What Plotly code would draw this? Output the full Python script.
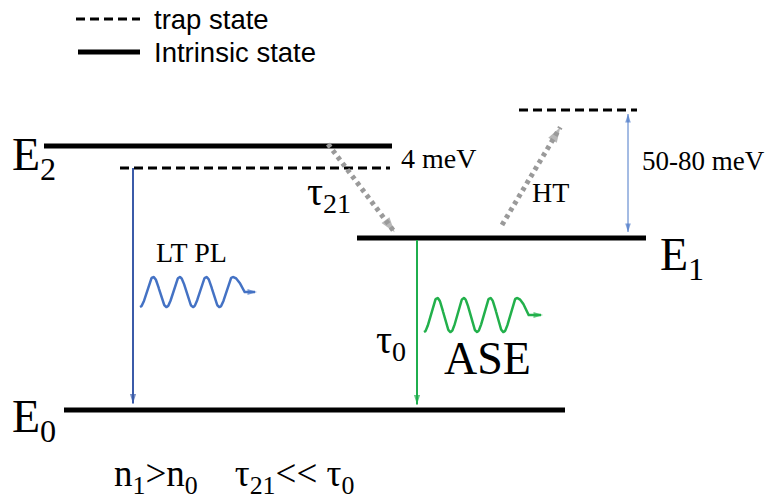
import numpy as np
import plotly.graph_objects as go

# ---------------- data (diagram units) ----------------
level_names = ["E2", "E2 trap", "E1 trap", "E1", "E0"]
level_kind = ["intrinsic", "trap", "trap", "intrinsic", "intrinsic"]
level_x0 = [44, 120, 519, 357, 64]
level_x1 = [392, 390, 637, 646, 565]
level_y = [146, 168, 110, 238, 410]

legend_labels = ["trap state", "Intrinsic state"]
legend_kind = ["trap", "intrinsic"]
legend_x0 = [76, 78]
legend_x1 = [140, 140]
legend_y = [19, 52]

# transitions: (x_from, y_from, x_to, y_to)
lt_pl = [133, 168, 133, 408]
ase = [417, 240, 417, 409]
gap = [628, 110, 628, 236]
tau21_path = [328, 144, 399, 238]
ht_path = [502, 225, 564, 121]

# photon squiggles: x start, centre y, period, amplitude, end of tail
wave_blue = [140, 292, 26.5, 15, 260]
wave_green = [424, 315, 26.5, 17, 546]

# labels
label_text = ["E<sub>2</sub>", "4 meV", "τ<sub>21</sub>", "HT", "50-80 meV",
              "E<sub>1</sub>", "LT PL", "τ<sub>0</sub>", "ASE", "E<sub>0</sub>",
              "n<sub>1</sub>>n<sub>0</sub>    τ<sub>21</sub><< τ<sub>0</sub>"]
label_x = [10, 399, 305, 530, 640, 658, 154, 374, 442, 10, 112]
label_y = [158, 158, 194, 192, 161, 258, 252, 342, 358, 420, 476]
label_size = [46, 28, 40, 28, 27, 46, 28, 40, 46, 46, 37]

SERIF = "Liberation Serif"
SANS = "Liberation Sans"

fig = go.Figure()

def level_style(kind):
    if kind == "intrinsic":
        return dict(color="black", width=5)
    return dict(color="black", width=3, dash="9px,5px")

for x0, x1, y, k in zip(level_x0, level_x1, level_y, level_kind):
    fig.add_trace(go.Scatter(x=[x0, x1], y=[y, y], mode="lines",
                             line=level_style(k), hoverinfo="skip", showlegend=False))

for x0, x1, y, k, lab in zip(legend_x0, legend_x1, legend_y, legend_kind, legend_labels):
    fig.add_trace(go.Scatter(x=[x0, x1], y=[y, y], mode="lines",
                             line=level_style(k), hoverinfo="skip", showlegend=False))
    fig.add_annotation(x=152, y=y, text=lab, showarrow=False, xanchor="left",
                       yanchor="middle", font=dict(family=SANS, size=27.5, color="black"))


def head(xs, ys, color, size):
    fig.add_trace(go.Scatter(x=xs, y=ys, mode="markers",
                             marker=dict(symbol="arrow", angleref="previous",
                                         size=[0, size], color=color, line=dict(width=0)),
                             hoverinfo="skip", showlegend=False))


def arrow(p, color, width, dash=None, size=12, both=False):
    # shorten line a bit so that the head tip sits at the end point
    x0, y0, x1, y1 = p
    L = np.hypot(x1 - x0, y1 - y0)
    ux, uy = (x1 - x0) / L, (y1 - y0) / L
    sh = size * 0.45
    lx0, ly0 = (x0 + ux * sh, y0 + uy * sh) if both else (x0, y0)
    line = dict(color=color, width=width)
    if dash:
        line["dash"] = dash
    fig.add_trace(go.Scatter(x=[lx0, x1 - ux * sh], y=[ly0, y1 - uy * sh], mode="lines",
                             line=line, hoverinfo="skip", showlegend=False))
    head([x0, x1 - ux * sh], [y0, y1 - uy * sh], color, size)
    if both:
        head([x1, x0 + ux * sh], [y1, y0 + uy * sh], color, size)


arrow(tau21_path, "#9a9a9a", 5, dash="4px,4px", size=16)
arrow(ht_path, "#9a9a9a", 5, dash="4px,4px", size=16)
arrow(lt_pl, "#3b5ba9", 2, size=10)
arrow(ase, "#1fae4d", 2, size=10)
arrow(gap, "#4a78c8", 1, size=9, both=True)


def squiggle(w, color):
    x0, yc, period, amp, xend = w
    t = np.linspace(0, 3.5 * period, 220)
    xs = x0 + t
    ys = yc + amp * np.cos(2 * np.pi * t / period)
    tt = np.linspace(0, period * 0.45, 30)[1:]
    xt = xs[-1] + tt
    yt = yc - amp * np.cos(np.pi / 2 * tt / tt[-1])
    X = np.concatenate([xs, xt, [xend - 5]])
    Y = np.concatenate([ys, yt, [yc]])
    fig.add_trace(go.Scatter(x=X, y=Y, mode="lines", line=dict(color=color, width=2.5),
                             hoverinfo="skip", showlegend=False))
    head([X[-2], xend - 3], [yc, yc], color, 10)


squiggle(wave_blue, "#4472c4")
squiggle(wave_green, "#22b04b")

for t, x, y, s in zip(label_text, label_x, label_y, label_size):
    fig.add_annotation(x=x, y=y, text=t, showarrow=False, xanchor="left", yanchor="middle",
                       font=dict(family=SERIF, size=s, color="black"))

fig.update_xaxes(range=[0, 768], visible=False, fixedrange=True)
fig.update_yaxes(range=[502, 0], visible=False, fixedrange=True)
fig.update_layout(width=768, height=502, margin=dict(l=0, r=0, t=0, b=0),
                  plot_bgcolor="white", paper_bgcolor="white", hovermode=False)
fig.write_html("out.html", config={"displayModeBar": False},
               post_script="document.body.style.margin='0';")
